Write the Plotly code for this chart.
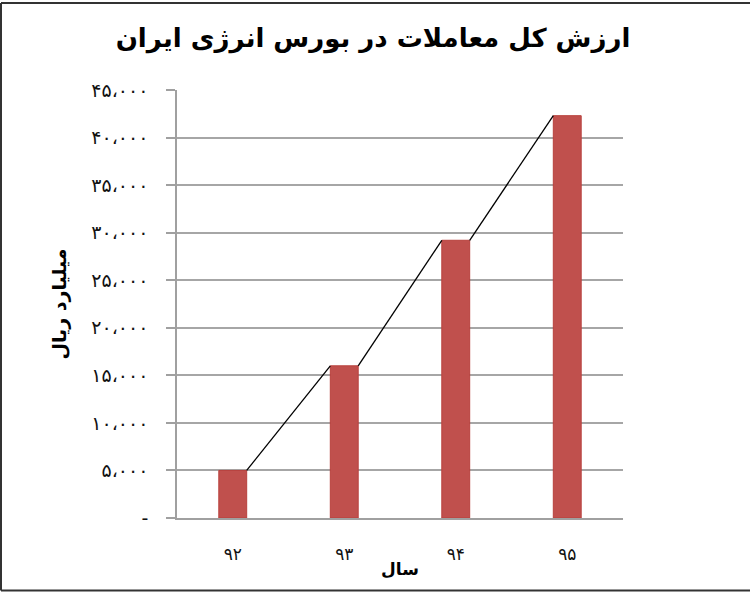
import plotly.graph_objects as go

# ---- data ----
years = ["۹۲", "۹۳", "۹۴", "۹۵"]
values = [5000, 16000, 29200, 42300]
y_tick_values = [0, 5000, 10000, 15000, 20000, 25000, 30000, 35000, 40000, 45000]
y_tick_labels = ["-", "۵،۰۰۰", "۱۰،۰۰۰", "۱۵،۰۰۰", "۲۰،۰۰۰", "۲۵،۰۰۰",
                 "۳۰،۰۰۰", "۳۵،۰۰۰", "۴۰،۰۰۰", "۴۵،۰۰۰"]
title_text = "ارزش کل معاملات در بورس انرژی ایران"
x_title = "سال"
y_title = "میلیارد ریال"

W, H = 750, 592
ML, MR, MT, MB = 177, 127, 90, 74
bar_w = 0.25
FONT = "DejaVu Sans"

xs = list(range(len(years)))

# series lines connecting bar tops (right edge of one bar to left edge of the next)
lx, ly = [], []
for i in range(len(values) - 1):
    lx += [xs[i] + bar_w / 2, xs[i + 1] - bar_w / 2, None]
    ly += [values[i], values[i + 1], None]

fig = go.Figure()
fig.add_trace(go.Bar(
    x=xs, y=values, width=bar_w,
    marker=dict(color="#c0504d", line=dict(color="#b8403d", width=1)),
    showlegend=False, hoverinfo="y",
))
fig.add_trace(go.Scatter(
    x=lx, y=ly, mode="lines",
    line=dict(color="black", width=1.3),
    showlegend=False, hoverinfo="skip",
))

# chart frame (left, top, bottom edges)
pw = W - ML - MR
ph = H - MT - MB
fx0 = (1 - ML) / pw
fx1 = (W - ML) / pw
fy_top = 1 + (MT - 3) / ph
fy_bot = -(H - 1.5 - MT - ph) / ph
frame = dict(color="#333333", width=2)
for (a, b, c, d) in [(fx0, fy_bot, fx0, fy_top), (fx0, fy_top, fx1, fy_top), (fx0, fy_bot, fx1, fy_bot)]:
    fig.add_shape(type="line", xref="paper", yref="paper", x0=a, y0=b, x1=c, y1=d,
                  line=frame, layer="above")

fig.update_layout(
    width=W, height=H,
    margin=dict(l=ML, r=MR, t=MT, b=MB, pad=0),
    paper_bgcolor="white", plot_bgcolor="white",
    font=dict(family=FONT, color="black"),
    title=dict(text="<b>" + title_text + "</b>", x=(373 - ML) / pw, xref="paper", xanchor="center",
               y=1 - 38 / H, yref="container", yanchor="middle",
               font=dict(family=FONT, size=26, color="black")),
    xaxis=dict(
        tickmode="array", tickvals=xs, ticktext=years,
        range=[-0.5, len(years) - 0.5],
        showgrid=False, showline=True, linecolor="#a0a0a0", linewidth=1.5,
        ticks="", tickfont=dict(family=FONT, size=17, color="#111"),
        ticklabelstandoff=20,
        title=dict(text="<b>" + x_title + "</b>", font=dict(family=FONT, size=17, color="black"),
                   standoff=0),
        zeroline=False,
    ),
    yaxis=dict(
        tickmode="array", tickvals=y_tick_values, ticktext=y_tick_labels,
        range=[0, 45000],
        showgrid=True, gridcolor="#a6a6a6", gridwidth=1.5,
        showline=True, linecolor="#a0a0a0", linewidth=1.5,
        ticks="outside", ticklen=9, tickcolor="#a0a0a0", tickwidth=1.5,
        tickfont=dict(family=FONT, size=19, color="#111"),
        ticklabelstandoff=14,
        title=dict(text="<b>" + y_title + "</b>", font=dict(family=FONT, size=19, color="black"),
                   standoff=20),
        zeroline=False,
    ),
)

fig.write_html("out.html", post_script="document.body.style.margin='0';",
               config={"displayModeBar": False})
